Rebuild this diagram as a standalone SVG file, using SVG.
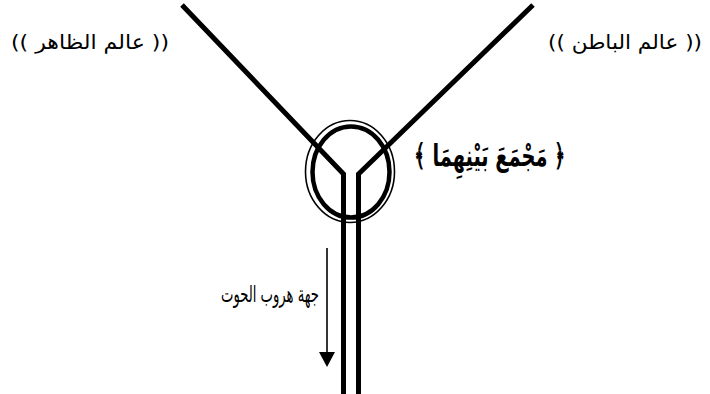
<svg xmlns="http://www.w3.org/2000/svg" width="710" height="394" viewBox="0 0 710 394">
<style>
.ln{fill:none;stroke:#000;stroke-width:5;stroke-linejoin:miter}
.lbl{font-family:"DejaVu Sans","Noto Sans",sans-serif;fill:#000;direction:rtl;unicode-bidi:embed;text-anchor:middle}
</style>
<rect width="710" height="394" fill="#fff"/>
<g id="connectors">
<polyline class="ln" points="182,5 343.5,174 343.5,394"/>
<polyline class="ln" points="533,5 358.5,174 358.5,394"/>
<line x1="327" y1="248" x2="327" y2="354" stroke="#000" stroke-width="1.6"/>
<path d="M319,352 L335,352 L327,367 Z" fill="#000"/>
</g>
<g id="junction">
<ellipse cx="350" cy="171.5" rx="44.5" ry="51" fill="none" stroke="#000" stroke-width="1.6"/>
<ellipse cx="351" cy="172" rx="38.5" ry="45.5" fill="none" stroke="#000" stroke-width="4.5"/>
</g>
<g id="zahir"><text class="lbl" x="90" y="49" font-size="20" textLength="158" lengthAdjust="spacingAndGlyphs">(( عالم الظاهر ))</text></g>
<g id="batin"><text class="lbl" x="625" y="49" font-size="20" textLength="154" lengthAdjust="spacingAndGlyphs">(( عالم الباطن ))</text></g>
<g id="majma"><text class="lbl" x="490" y="166" font-size="30" font-weight="bold" textLength="152" lengthAdjust="spacingAndGlyphs">﴿ مَجْمَعَ بَيْنِهِمَا ﴾</text></g>
<g id="hut"><text class="lbl" x="270" y="302" font-size="23" textLength="98" lengthAdjust="spacingAndGlyphs">جهة هروب الحوت</text></g>
</svg>
